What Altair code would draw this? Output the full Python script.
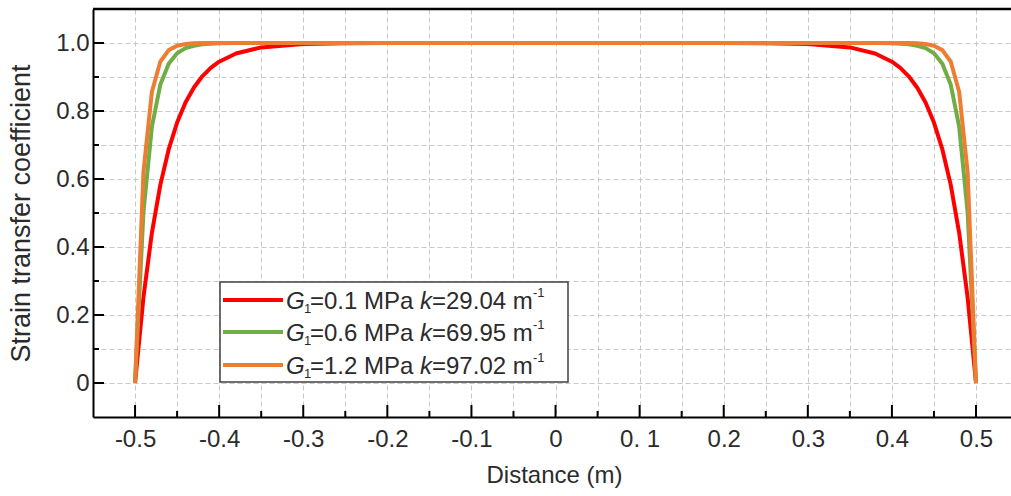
import altair as alt
import pandas as pd

# ---- data ----
distance = [-0.5, -0.49, -0.48, -0.47, -0.46, -0.45, -0.44, -0.43, -0.42, -0.41, -0.40,
            -0.38, -0.35, -0.30, -0.25, -0.20, 0.0, 0.20, 0.25, 0.30, 0.35, 0.38,
            0.40, 0.41, 0.42, 0.43, 0.44, 0.45, 0.46, 0.47, 0.48, 0.49, 0.5]
coef_g01 = [0, 0.252, 0.441, 0.582, 0.687, 0.766, 0.825, 0.869, 0.902, 0.927, 0.945,
            0.969, 0.987, 0.997, 0.999, 1.0, 1.0, 1.0, 0.999, 0.997, 0.987, 0.969,
            0.945, 0.927, 0.902, 0.869, 0.825, 0.766, 0.687, 0.582, 0.441, 0.252, 0]
coef_g06 = [0, 0.503, 0.753, 0.877, 0.939, 0.970, 0.985, 0.992, 0.996, 0.998, 0.999,
            1.0, 1.0, 1.0, 1.0, 1.0, 1.0, 1.0, 1.0, 1.0, 1.0, 1.0,
            0.999, 0.998, 0.996, 0.992, 0.985, 0.970, 0.939, 0.877, 0.753, 0.503, 0]
coef_g12 = [0, 0.621, 0.856, 0.945, 0.979, 0.992, 0.997, 0.999, 1.0, 1.0, 1.0,
            1.0, 1.0, 1.0, 1.0, 1.0, 1.0, 1.0, 1.0, 1.0, 1.0, 1.0,
            1.0, 1.0, 1.0, 0.999, 0.997, 0.992, 0.979, 0.945, 0.856, 0.621, 0]

series_values = [coef_g01, coef_g06, coef_g12]
series_colors = ["#FF0000", "#70AD47", "#ED7D31"]
legend_g = ["0.1", "0.6", "1.2"]
legend_k = ["29.04", "69.95", "97.02"]

y_grid = [0, 0.1, 0.2, 0.3, 0.4, 0.5, 0.6, 0.7, 0.8, 0.9, 1.0]
x_grid = [-0.5, -0.45, -0.4, -0.35, -0.3, -0.25, -0.2, -0.15, -0.1, -0.05, 0,
          0.05, 0.1, 0.15, 0.2, 0.25, 0.3, 0.35, 0.4, 0.45, 0.5]
y_major = [0, 0.2, 0.4, 0.6, 0.8, 1.0]
y_minor = [0.1, 0.3, 0.5, 0.7, 0.9]
x_major = [-0.5, -0.4, -0.3, -0.2, -0.1, 0, 0.1, 0.2, 0.3, 0.4, 0.5]
x_minor = [-0.45, -0.35, -0.25, -0.15, -0.05, 0.05, 0.15, 0.25, 0.35, 0.45]

# ---- layout / style ----
W, H = 918, 408
FONT = "Arial, Liberation Sans, sans-serif"
TXT = "#2b2b2b"
xscale = alt.Scale(domain=[-0.55, 0.5416], nice=False, zero=False)
yscale = alt.Scale(domain=[-0.1, 1.1], nice=False, zero=False)

x_label_expr = ("abs(round(datum.value*100)) % 10 == 0 ? "
                "(abs(datum.value) < 1e-6 ? '0' : (abs(datum.value - 0.1) < 1e-6 ? '0. 1' : "
                "(datum.value < 0 ? '-' : '') + format(abs(datum.value), '.1f'))) : ''")
y_label_expr = ("abs(round(datum.value*10)) % 2 == 0 ? "
                "(abs(datum.value) < 1e-6 ? '0' : format(datum.value, '.1f')) : ''")

x_axis = alt.Axis(values=x_grid, grid=True, gridDash=[5, 3], gridColor="#c8c8c8", gridWidth=1,
                  ticks=False, domainColor="black", domainWidth=2,
                  labelExpr=x_label_expr, labelFont=FONT, labelFontSize=24, labelColor=TXT,
                  labelPadding=10, labelFlush=False, labelOverlap=False,
                  title="Distance (m)", titleFont=FONT, titleFontSize=24,
                  titleFontWeight="normal", titleColor=TXT,
                  titleX=461, titleY=58, titleBaseline="middle", titleAlign="center")
y_axis = alt.Axis(values=y_grid, grid=True, gridDash=[5, 3], gridColor="#c8c8c8", gridWidth=1,
                  ticks=False, domainColor="black", domainWidth=2,
                  labelExpr=y_label_expr, labelFont=FONT, labelFontSize=24, labelColor=TXT,
                  labelPadding=4, labelOverlap=False, labelFlush=False,
                  title="Strain transfer coefficient", titleFont=FONT, titleFontSize=27,
                  titleFontWeight="normal", titleColor=TXT, titleAngle=270,
                  titleX=-72, titleY=204, titleBaseline="middle", titleAlign="center")

layers = []
for i, (vals, col) in enumerate(zip(series_values, series_colors)):
    df = pd.DataFrame({"x": distance, "y": vals})
    layers.append(
        alt.Chart(df).mark_line(color=col, strokeWidth=4, strokeJoin="round").encode(
            x=alt.X("x:Q", scale=xscale, axis=x_axis),
            y=alt.Y("y:Q", scale=yscale, axis=y_axis),
        )
    )

# inward ticks
def yticks(vals, length):
    return alt.Chart(pd.DataFrame({"v": vals})).mark_rule(color="black", strokeWidth=2).encode(
        y=alt.Y("v:Q", scale=yscale, axis=y_axis), x=alt.value(0), x2=alt.value(length))

def xticks(vals, length):
    return alt.Chart(pd.DataFrame({"v": vals})).mark_rule(color="black", strokeWidth=2).encode(
        x=alt.X("v:Q", scale=xscale, axis=x_axis), y=alt.value(H), y2=alt.value(H - length))

layers += [yticks(y_major, 11), yticks(y_minor, 6), xticks(x_major, 12), xticks(x_minor, 6)]

one = pd.DataFrame({"a": [0]})
# top frame
layers.append(alt.Chart(one).mark_rule(color="black", strokeWidth=2.5).encode(
    x=alt.value(0), x2=alt.value(W), y=alt.value(0)))

# legend
layers.append(alt.Chart(one).mark_rect(fill="white", stroke="#404040", strokeWidth=1.5).encode(
    x=alt.value(127), x2=alt.value(475), y=alt.value(273), y2=alt.value(373)))

row_y = [291, 323, 356]
for i in range(3):
    ry = row_y[i]
    layers.append(alt.Chart(one).mark_rule(color=series_colors[i], strokeWidth=4).encode(
        x=alt.value(130), x2=alt.value(190), y=alt.value(ry)))
    segs = [
        ("G", 193, ry + 8.5, 24, "italic"),
        ("1", 211, ry + 13, 13, "normal"),
        ("=" + legend_g[i] + " MPa", 217, ry + 8.5, 24, "normal"),
        ("k", 327, ry + 8.5, 24, "italic"),
        ("=" + legend_k[i] + " m", 339, ry + 8.5, 24, "normal"),
        ("-1", 440, ry - 3, 13, "normal"),
    ]
    for t, tx, ty, fs, st in segs:
        layers.append(alt.Chart(one).mark_text(
            align="left", baseline="alphabetic", font=FONT, fontSize=fs,
            fontStyle=st, color=TXT).encode(
            x=alt.value(tx), y=alt.value(ty), text=alt.value(t)))

chart = alt.layer(*layers).properties(
    width=W, height=H,
    autosize=alt.AutoSizeParams(type="none"),
    padding={"left": 93, "top": 9, "right": 0, "bottom": 79},
    background="white",
).configure_view(strokeWidth=0)

chart.save("out.html", embed_options={"renderer": "svg", "actions": False})
